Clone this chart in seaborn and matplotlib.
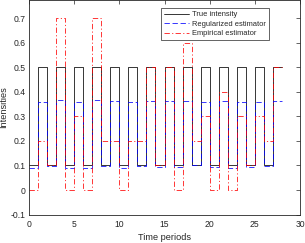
import matplotlib
matplotlib.use("Agg")
import matplotlib.pyplot as plt
import seaborn as sns
import numpy as np
import pandas as pd

# per-period values (period k covers [k, k+1))
periods = list(range(28))
true_intensity = [0.1, 0.5, 0.1, 0.5, 0.1, 0.5, 0.1, 0.5, 0.1, 0.5, 0.1, 0.5, 0.1, 0.5,
                  0.1, 0.5, 0.1, 0.5, 0.1, 0.5, 0.1, 0.5, 0.1, 0.5, 0.1, 0.5, 0.1, 0.5]
regularized = [0.09, 0.36, 0.097, 0.366, 0.09, 0.36, 0.09, 0.366, 0.097, 0.362,
               0.09, 0.36, 0.097, 0.364, 0.093, 0.364, 0.093, 0.364, 0.1, 0.36,
               0.093, 0.364, 0.09, 0.36, 0.093, 0.36, 0.097, 0.364]
empirical = [0.0, 0.2, 0.1, 0.7, 0.0, 0.3, 0.0, 0.7, 0.2, 0.2,
             0.0, 0.2, 0.2, 0.5, 0.1, 0.5, 0.0, 0.6, 0.2, 0.3,
             0.0, 0.4, 0.0, 0.3, 0.1, 0.3, 0.2, 0.5]
series_names = ["True intensity", "Regularized estimator", "Empirical estimator"]


def stairs_frame(vals):
    # close the last step at the end of the final period
    return pd.DataFrame({"t": periods + [periods[-1] + 1], "v": vals + [vals[-1]]})


sns.set_style("white")
plt.rcParams["font.family"] = ["Liberation Sans", "DejaVu Sans"]
ink = "#262626"

fig = plt.figure(figsize=(3.05, 2.43), dpi=100)
ax = fig.add_axes([0.0951, 0.117, 0.8885, 0.881])

lw = 0.55
sns.lineplot(data=stairs_frame(true_intensity), x="t", y="v", ax=ax, color="k",
             linewidth=lw, drawstyle="steps-post", label=series_names[0])
sns.lineplot(data=stairs_frame(regularized), x="t", y="v", ax=ax, color="b",
             linewidth=lw, drawstyle="steps-post", dashes=(7, 3.5), label=series_names[1])
sns.lineplot(data=stairs_frame(empirical), x="t", y="v", ax=ax, color="r",
             linewidth=lw, drawstyle="steps-post", dashes=(7, 3, 1.5, 3), label=series_names[2])

ax.set_xlim(0, 30)
ax.set_ylim(-0.1, 0.772)
ax.set_xticks(np.arange(0, 31, 5))
ax.set_yticks(np.round(np.arange(-0.1, 0.71, 0.1), 1))
ax.set_yticklabels(["-0.1", "0", "0.1", "0.2", "0.3", "0.4", "0.5", "0.6", "0.7"])

for s in ax.spines.values():
    s.set_visible(True)
    s.set_color(ink)
    s.set_linewidth(0.6)
ax.tick_params(direction="in", length=3, width=0.5, colors=ink, labelsize=6.2,
               top=True, right=True, pad=2.5)
ax.tick_params(axis="x", pad=4)

ax.set_xlabel("Time periods", fontsize=6.6, color=ink, labelpad=3)
ax.set_ylabel("Intensities", fontsize=6.6, color=ink, labelpad=1.5)

leg = ax.legend(loc="upper left", bbox_to_anchor=(0.487, 0.965), borderaxespad=0,
                fontsize=5.4, handlelength=3.3, handletextpad=0.4, labelspacing=0.3,
                borderpad=0.4, fancybox=False, framealpha=1, edgecolor=ink)
leg.get_frame().set_linewidth(0.5)
for t in leg.get_texts():
    t.set_color(ink)

fig.savefig("out.png", dpi=100)
